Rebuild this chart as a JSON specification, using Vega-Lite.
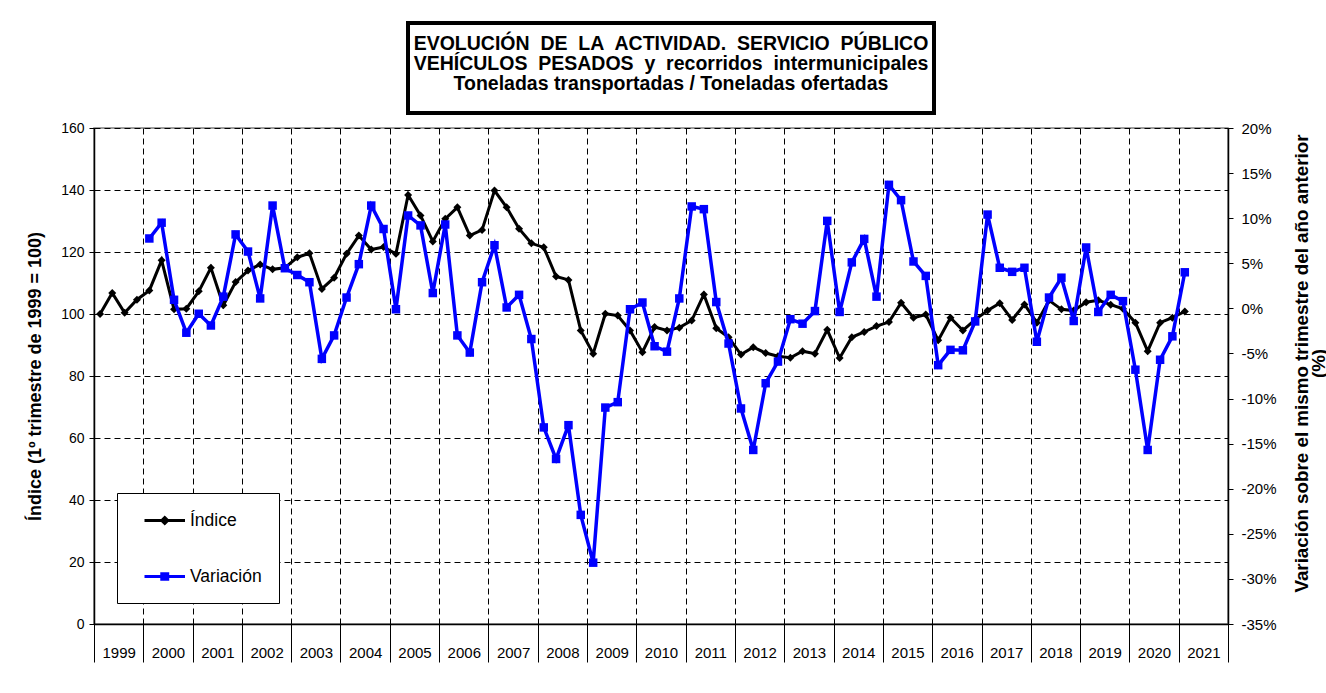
{
  "$schema": "https://vega.github.io/schema/vega-lite/v6.json",
  "background": "white",
  "padding": {"left": 25, "top": 21, "right": 0, "bottom": 0},
  "config": {"font": "Liberation Sans"},
  "spacing": 105,
  "bounds": "flush",
  "vconcat": [
    {
      "spacing": 0,
      "bounds": "flush",
      "hconcat": [
        {
          "width": 314,
          "height": 90,
          "view": {"stroke": null},
          "data": {"values": []},
          "mark": "text",
          "encoding": {}
        },
        {
          "width": 526,
          "height": 90,
          "view": {"stroke": "black", "strokeWidth": 4, "fill": "white"},
          "data": {"values": [{}]},
          "mark": {
            "type": "text",
            "text": [
              "EVOLUCIÓN \u00a0DE \u00a0LA \u00a0ACTIVIDAD. \u00a0SERVICIO \u00a0PÚBLICO",
              "VEHÍCULOS \u00a0PESADOS \u00a0y \u00a0recorridos \u00a0intermunicipales",
              "Toneladas transportadas / Toneladas ofertadas"
            ],
            "fontSize": 19.5,
            "fontWeight": "bold",
            "lineHeight": 20,
            "align": "center",
            "baseline": "middle",
            "dy": -24,
            "color": "black"
          },
          "encoding": {}
        }
      ]
    },
    {
      "width": 1134,
      "height": 496,
      "view": {"stroke": "#808080", "strokeWidth": 1.5},
      "data": {
        "values": [
          {"fecha": "1999-02-15T00:00", "indice": 100.0, "variacion": null},
          {"fecha": "1999-05-16T00:00", "indice": 106.8, "variacion": null},
          {"fecha": "1999-08-16T00:00", "indice": 100.4, "variacion": null},
          {"fecha": "1999-11-15T00:00", "indice": 104.6, "variacion": null},
          {"fecha": "2000-02-15T00:00", "indice": 107.6, "variacion": 7.75},
          {"fecha": "2000-05-16T00:00", "indice": 117.3, "variacion": 9.5},
          {"fecha": "2000-08-16T00:00", "indice": 101.5, "variacion": 0.95},
          {"fecha": "2000-11-15T00:00", "indice": 101.7, "variacion": -2.7},
          {"fecha": "2001-02-15T00:00", "indice": 107.3, "variacion": -0.6},
          {"fecha": "2001-05-16T00:00", "indice": 114.9, "variacion": -1.9},
          {"fecha": "2001-08-16T00:00", "indice": 102.8, "variacion": 1.3},
          {"fecha": "2001-11-15T00:00", "indice": 110.3, "variacion": 8.2},
          {"fecha": "2002-02-15T00:00", "indice": 114.0, "variacion": 6.3},
          {"fecha": "2002-05-16T00:00", "indice": 116.0, "variacion": 1.1},
          {"fecha": "2002-08-16T00:00", "indice": 114.4, "variacion": 11.4},
          {"fecha": "2002-11-15T00:00", "indice": 114.9, "variacion": 4.45},
          {"fecha": "2003-02-15T00:00", "indice": 118.3, "variacion": 3.7},
          {"fecha": "2003-05-16T00:00", "indice": 119.6, "variacion": 2.9},
          {"fecha": "2003-08-16T00:00", "indice": 108.1, "variacion": -5.6},
          {"fecha": "2003-11-15T00:00", "indice": 111.7, "variacion": -3.0},
          {"fecha": "2004-02-15T00:00", "indice": 119.4, "variacion": 1.2},
          {"fecha": "2004-05-16T00:00", "indice": 125.3, "variacion": 4.9},
          {"fecha": "2004-08-16T00:00", "indice": 120.8, "variacion": 11.4},
          {"fecha": "2004-11-15T00:00", "indice": 121.6, "variacion": 8.8},
          {"fecha": "2005-02-15T00:00", "indice": 119.4, "variacion": -0.1},
          {"fecha": "2005-05-16T00:00", "indice": 138.4, "variacion": 10.3},
          {"fecha": "2005-08-16T00:00", "indice": 131.8, "variacion": 9.2},
          {"fecha": "2005-11-15T00:00", "indice": 123.4, "variacion": 1.7},
          {"fecha": "2006-02-15T00:00", "indice": 130.7, "variacion": 9.3},
          {"fecha": "2006-05-16T00:00", "indice": 134.4, "variacion": -3.0},
          {"fecha": "2006-08-16T00:00", "indice": 125.3, "variacion": -4.9},
          {"fecha": "2006-11-15T00:00", "indice": 127.1, "variacion": 2.9},
          {"fecha": "2007-02-15T00:00", "indice": 139.8, "variacion": 7.0},
          {"fecha": "2007-05-16T00:00", "indice": 134.4, "variacion": 0.1},
          {"fecha": "2007-08-16T00:00", "indice": 127.5, "variacion": 1.5},
          {"fecha": "2007-11-15T00:00", "indice": 122.8, "variacion": -3.4},
          {"fecha": "2008-02-15T00:00", "indice": 121.5, "variacion": -13.2},
          {"fecha": "2008-05-16T00:00", "indice": 112.1, "variacion": -16.7},
          {"fecha": "2008-08-16T00:00", "indice": 111.0, "variacion": -12.95},
          {"fecha": "2008-11-15T00:00", "indice": 94.7, "variacion": -22.9},
          {"fecha": "2009-02-15T00:00", "indice": 87.2, "variacion": -28.2},
          {"fecha": "2009-05-16T00:00", "indice": 100.1, "variacion": -11.0},
          {"fecha": "2009-08-16T00:00", "indice": 99.5, "variacion": -10.4},
          {"fecha": "2009-11-15T00:00", "indice": 94.7, "variacion": -0.1},
          {"fecha": "2010-02-15T00:00", "indice": 87.7, "variacion": 0.65},
          {"fecha": "2010-05-16T00:00", "indice": 95.8, "variacion": -4.2},
          {"fecha": "2010-08-16T00:00", "indice": 94.7, "variacion": -4.8},
          {"fecha": "2010-11-15T00:00", "indice": 95.6, "variacion": 1.1},
          {"fecha": "2011-02-15T00:00", "indice": 97.9, "variacion": 11.3},
          {"fecha": "2011-05-16T00:00", "indice": 106.3, "variacion": 11.0},
          {"fecha": "2011-08-16T00:00", "indice": 95.4, "variacion": 0.7},
          {"fecha": "2011-11-15T00:00", "indice": 92.5, "variacion": -3.9},
          {"fecha": "2012-02-15T00:00", "indice": 86.9, "variacion": -11.1},
          {"fecha": "2012-05-16T00:00", "indice": 89.3, "variacion": -15.7},
          {"fecha": "2012-08-16T00:00", "indice": 87.4, "variacion": -8.3},
          {"fecha": "2012-11-15T00:00", "indice": 86.4, "variacion": -5.9},
          {"fecha": "2013-02-15T00:00", "indice": 85.9, "variacion": -1.2},
          {"fecha": "2013-05-16T00:00", "indice": 88.0, "variacion": -1.7},
          {"fecha": "2013-08-16T00:00", "indice": 87.2, "variacion": -0.3},
          {"fecha": "2013-11-15T00:00", "indice": 94.9, "variacion": 9.7},
          {"fecha": "2014-02-15T00:00", "indice": 85.8, "variacion": -0.4},
          {"fecha": "2014-05-16T00:00", "indice": 92.5, "variacion": 5.1},
          {"fecha": "2014-08-16T00:00", "indice": 94.2, "variacion": 7.7},
          {"fecha": "2014-11-15T00:00", "indice": 96.1, "variacion": 1.3},
          {"fecha": "2015-02-15T00:00", "indice": 97.4, "variacion": 13.7},
          {"fecha": "2015-05-16T00:00", "indice": 103.6, "variacion": 12.0},
          {"fecha": "2015-08-16T00:00", "indice": 98.8, "variacion": 5.2},
          {"fecha": "2015-11-15T00:00", "indice": 99.8, "variacion": 3.6},
          {"fecha": "2016-02-15T00:00", "indice": 91.5, "variacion": -6.3},
          {"fecha": "2016-05-16T00:00", "indice": 98.8, "variacion": -4.6},
          {"fecha": "2016-08-16T00:00", "indice": 94.7, "variacion": -4.65},
          {"fecha": "2016-11-15T00:00", "indice": 98.2, "variacion": -1.45},
          {"fecha": "2017-02-15T00:00", "indice": 101.1, "variacion": 10.4},
          {"fecha": "2017-05-16T00:00", "indice": 103.5, "variacion": 4.5},
          {"fecha": "2017-08-16T00:00", "indice": 98.1, "variacion": 4.05},
          {"fecha": "2017-11-15T00:00", "indice": 103.1, "variacion": 4.5},
          {"fecha": "2018-02-15T00:00", "indice": 97.2, "variacion": -3.7},
          {"fecha": "2018-05-16T00:00", "indice": 104.4, "variacion": 1.2},
          {"fecha": "2018-08-16T00:00", "indice": 101.5, "variacion": 3.4},
          {"fecha": "2018-11-15T00:00", "indice": 101.1, "variacion": -1.4},
          {"fecha": "2019-02-15T00:00", "indice": 103.8, "variacion": 6.75},
          {"fecha": "2019-05-16T00:00", "indice": 104.4, "variacion": -0.4},
          {"fecha": "2019-08-16T00:00", "indice": 103.0, "variacion": 1.5},
          {"fecha": "2019-11-15T00:00", "indice": 101.7, "variacion": 0.8},
          {"fecha": "2020-02-15T00:00", "indice": 97.2, "variacion": -6.8},
          {"fecha": "2020-05-16T00:00", "indice": 88.0, "variacion": -15.7},
          {"fecha": "2020-08-16T00:00", "indice": 97.2, "variacion": -5.7},
          {"fecha": "2020-11-15T00:00", "indice": 98.8, "variacion": -3.1},
          {"fecha": "2021-02-15T00:00", "indice": 100.8, "variacion": 4.0}
        ]
      },
      "encoding": {
        "x": {
          "field": "fecha",
          "type": "temporal",
          "scale": {"domain": [{"year": 1999, "month": 1, "date": 1}, {"year": 2022, "month": 1, "date": 1}]},
          "axis": {
            "title": null,
            "values": [
              {"year": 1999, "month": 1, "date": 1}, {"year": 2000, "month": 1, "date": 1},
              {"year": 2001, "month": 1, "date": 1}, {"year": 2002, "month": 1, "date": 1},
              {"year": 2003, "month": 1, "date": 1}, {"year": 2004, "month": 1, "date": 1},
              {"year": 2005, "month": 1, "date": 1}, {"year": 2006, "month": 1, "date": 1},
              {"year": 2007, "month": 1, "date": 1}, {"year": 2008, "month": 1, "date": 1},
              {"year": 2009, "month": 1, "date": 1}, {"year": 2010, "month": 1, "date": 1},
              {"year": 2011, "month": 1, "date": 1}, {"year": 2012, "month": 1, "date": 1},
              {"year": 2013, "month": 1, "date": 1}, {"year": 2014, "month": 1, "date": 1},
              {"year": 2015, "month": 1, "date": 1}, {"year": 2016, "month": 1, "date": 1},
              {"year": 2017, "month": 1, "date": 1}, {"year": 2018, "month": 1, "date": 1},
              {"year": 2019, "month": 1, "date": 1}, {"year": 2020, "month": 1, "date": 1},
              {"year": 2021, "month": 1, "date": 1}, {"year": 2022, "month": 1, "date": 1}
            ],
            "format": "%Y",
            "labelExpr": "year(datum.value) > 2021 ? '' : datum.label",
            "labelOffset": 24.65,
            "labelAlign": "center",
            "labelBaseline": "middle",
            "labelPadding": -10,
            "labelFontSize": 15,
            "labelColor": "black",
            "labelOverlap": false,
            "labelFlush": false,
            "labelBound": false,
            "tickSize": 38,
            "tickColor": "black",
            "tickWidth": 1,
            "domainColor": "black",
            "domainWidth": 1.5,
            "grid": true,
            "gridColor": "black",
            "gridDash": [6, 4],
            "gridWidth": 1
          }
        }
      },
      "layer": [
        {
          "mark": {"type": "line", "strokeWidth": 3, "point": {"shape": "diamond", "size": 64, "filled": true, "color": "black", "opacity": 1}},
          "encoding": {
            "y": {
              "field": "indice",
              "type": "quantitative",
              "scale": {"domain": [0, 160], "nice": false, "zero": false},
              "axis": {
                "orient": "left",
                "values": [0, 20, 40, 60, 80, 100, 120, 140, 160],
                "title": "Índice (1º trimestre de 1999 = 100)",
                "titleFontSize": 18,
                "titleFontWeight": "bold",
                "titleColor": "black",
                "titlePadding": 16,
                "labelFontSize": 14,
                "labelColor": "black",
                "labelPadding": 5,
                "tickSize": 5,
                "tickColor": "black",
                "domainColor": "black",
                "domainWidth": 1.5,
                "grid": true,
                "gridColor": "black",
                "gridDash": [6, 4],
                "gridWidth": 1
              }
            },
            "color": {
              "datum": "Índice",
              "type": "nominal",
              "scale": {"domain": ["Índice", "Variación"], "range": ["black", "blue"]},
              "legend": {
                "title": null,
                "orient": "none",
                "legendX": 23,
                "legendY": 470,
                "fillColor": "white",
                "strokeColor": "black",
                "padding": 17,
                "rowPadding": 36,
                "labelFontSize": 17.5,
                "labelColor": "black",
                "labelOffset": 35,
                "labelExpr": "datum.label + '\u2002\u2002'",
                "symbolSize": 324,
                "symbolStrokeWidth": 3,
                "encode": {
                  "symbols": {
                    "update": {
                      "shape": {"signal": "datum.value === 'Índice' ? 'M0.0,0L4.5,0M2.25,-0.33L2.58,0L2.25,0.33L1.92,0Z' : 'M0.0,0L4.5,0M1.92,-0.3L2.58,-0.3L2.58,0.3L1.92,0.3Z'"},
                      "fill": {"signal": "datum.value === 'Índice' ? 'black' : 'blue'"},
                      "stroke": {"signal": "datum.value === 'Índice' ? 'black' : 'blue'"},
                      "strokeWidth": {"value": 3},
                      "size": {"value": 324},
                      "opacity": {"value": 1}
                    }
                  }
                }
              }
            }
          }
        },
        {
          "mark": {"type": "line", "strokeWidth": 3.5, "point": {"shape": "square", "size": 72, "filled": true, "color": "blue", "opacity": 1}},
          "encoding": {
            "y": {
              "field": "variacion",
              "type": "quantitative",
              "scale": {"domain": [-35, 20], "nice": false, "zero": false},
              "axis": {
                "orient": "right",
                "values": [-35, -30, -25, -20, -15, -10, -5, 0, 5, 10, 15, 20],
                "labelExpr": "datum.value + '%'",
                "title": ["Variación sobre el mismo trimestre del año anterior", "(%)"],
                "titleAngle": 270,
                "titleBaseline": "top",
                "titleX": 64,
                "titleY": 235,
                "titleFontSize": 18.8,
                "titleFontWeight": "bold",
                "titleColor": "black",
                "titleLineHeight": 17,
                "labelFontSize": 15,
                "labelColor": "black",
                "labelPadding": 8,
                "tickSize": 5,
                "tickColor": "black",
                "domainColor": "black",
                "domainWidth": 1.5,
                "grid": false
              }
            },
            "color": {"datum": "Variación", "type": "nominal"}
          }
        }
      ],
      "resolve": {"scale": {"y": "independent"}}
    }
  ]
}
